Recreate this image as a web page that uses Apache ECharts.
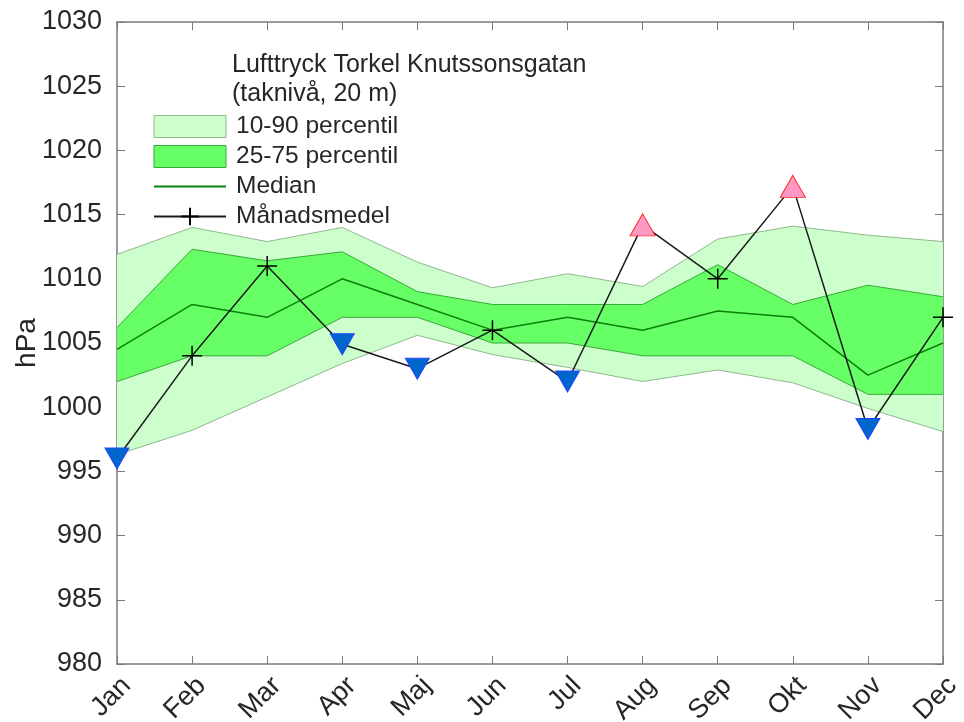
<!DOCTYPE html>
<html>
<head>
<meta charset="utf-8">
<script src="https://cdn.jsdelivr.net/npm/echarts@6/dist/echarts.min.js"></script>
<style>
  html, body { margin: 0; padding: 0; background: #fff; }
  #chart { width: 964px; height: 722px; }
</style>
</head>
<body>
<div id="chart"></div>
<script>
// ---- Data ----
const months = ['Jan', 'Feb', 'Mar', 'Apr', 'Maj', 'Jun', 'Jul', 'Aug', 'Sep', 'Okt', 'Nov', 'Dec']
const p10 = [996.3, 998.2, 1000.8, 1003.4, 1005.6, 1004.1, 1003.1, 1002.0, 1002.9, 1001.9, 999.9, 998.1]
const p25 = [1002.0, 1004.0, 1004.0, 1007.0, 1007.0, 1005.0, 1005.0, 1004.0, 1004.0, 1004.0, 1001.0, 1001.0]
const median = [1004.5, 1008.0, 1007.0, 1010.0, 1008.0, 1006.0, 1007.0, 1006.0, 1007.5, 1007.0, 1002.5, 1005.0]
const p75 = [1006.2, 1012.3, 1011.4, 1012.1, 1009.0, 1008.0, 1008.0, 1008.0, 1011.1, 1008.0, 1009.5, 1008.6]
const p90 = [1011.9, 1014.0, 1012.9, 1014.0, 1011.3, 1009.3, 1010.4, 1009.4, 1013.1, 1014.1, 1013.4, 1012.9]
const monthMean = [996.0, 1004.0, 1011.0, 1004.9, 1003.0, 1006.0, 1002.0, 1014.2, 1010.0, 1017.2, 998.3, 1007.0]

const FONT = 'Liberation Sans, Arial, Helvetica, sans-serif'
const TEXT_COLOR = '#262626'
const AXIS_COLOR = '#7a7a7a'
const OUTER_FILL = '#ccffcc'
const OUTER_EDGE = '#8fb88f'
const INNER_FILL = '#66ff66'
const INNER_EDGE = '#3aa83a'
const MEDIAN_COLOR = '#0a800a'
const PLUS = 'path://M0,10 L20,10 M10,0 L10,20'

// Monthly means outside the 25-75 band get triangles
function meanPoint(v, i) {
  if (v < p25[i]) {
    return {
      value: v,
      symbol: 'triangle',
      symbolRotate: 180,
      symbolSize: [24, 21],
      itemStyle: { color: '#0066cc', borderColor: '#2244ff', borderWidth: 1 },
    }
  }
  if (v > p75[i]) {
    return {
      value: v,
      symbol: 'triangle',
      symbolSize: [25, 22],
      itemStyle: { color: '#ff99c4', borderColor: '#ff2a2a', borderWidth: 1 },
    }
  }
  return v
}

const diff = (hi, lo) => hi.map((v, i) => +(v - lo[i]).toFixed(2))

const chart = echarts.init(document.getElementById('chart'), null, { renderer: 'canvas' })

chart.setOption({
  animation: false,
  backgroundColor: '#fff',
  textStyle: { fontFamily: FONT },
  title: {
    text: 'Lufttryck Torkel Knutssonsgatan\n(taknivå, 20 m)',
    left: 232,
    top: 51,
    padding: 0,
    textStyle: {
      fontFamily: FONT,
      fontSize: 25,
      fontWeight: 'normal',
      color: TEXT_COLOR,
      lineHeight: 29,
    },
  },
  legend: {
    orient: 'vertical',
    left: 153,
    top: 114,
    padding: 0,
    itemWidth: 72,
    itemHeight: 22,
    itemGap: 5,
    selectedMode: false,
    textStyle: { fontFamily: FONT, fontSize: 24.5, color: TEXT_COLOR, padding: [0, 0, 0, 5] },
    data: [
      { name: '10-90 percentil', icon: 'rect', itemStyle: { color: OUTER_FILL, borderColor: OUTER_EDGE, borderWidth: 1 } },
      { name: '25-75 percentil', icon: 'rect', itemStyle: { color: INNER_FILL, borderColor: INNER_EDGE, borderWidth: 1 } },
      { name: 'Median', itemStyle: { opacity: 0 } },
      { name: 'Månadsmedel' },
    ],
  },
  grid: { left: 117, right: 21, top: 22, bottom: 58, containLabel: false, outerBoundsMode: 'none' },
  xAxis: [
    {
      type: 'category',
      data: months,
      boundaryGap: false,
      axisLine: { lineStyle: { color: AXIS_COLOR, width: 1.5 } },
      axisTick: { inside: true, length: 8, lineStyle: { color: AXIS_COLOR } },
      axisLabel: {
        rotate: 45,
        fontSize: 27,
        color: TEXT_COLOR,
        margin: 8,
        align: 'right',
        verticalAlign: 'top',
        fontFamily: FONT,
      },
      splitLine: { show: false },
    },
    {
      type: 'category',
      data: months,
      position: 'top',
      boundaryGap: false,
      axisLine: { lineStyle: { color: AXIS_COLOR, width: 1.5 } },
      axisTick: { inside: true, length: 8, lineStyle: { color: AXIS_COLOR } },
      axisLabel: { show: false },
      splitLine: { show: false },
    },
  ],
  yAxis: [
    {
      type: 'value',
      min: 980,
      max: 1030,
      interval: 5,
      name: 'hPa',
      nameLocation: 'middle',
      nameGap: 76,
      nameMoveOverlap: false,
      nameTextStyle: { fontSize: 28, color: TEXT_COLOR, fontFamily: FONT },
      axisLine: { show: true, lineStyle: { color: AXIS_COLOR, width: 1.5 } },
      axisTick: { show: true, inside: true, length: 8, lineStyle: { color: AXIS_COLOR } },
      axisLabel: { fontSize: 27, color: TEXT_COLOR, margin: 15, fontFamily: FONT, formatter: (v) => String(v) },
      splitLine: { show: false },
    },
    {
      type: 'value',
      min: 980,
      max: 1030,
      interval: 5,
      position: 'right',
      axisLine: { show: true, lineStyle: { color: AXIS_COLOR, width: 1.5 } },
      axisTick: { show: true, inside: true, length: 8, lineStyle: { color: AXIS_COLOR } },
      axisLabel: { show: false },
      splitLine: { show: false },
    },
  ],
  series: [
    // 10-90 band: base + stacked width
    {
      name: 'p10',
      type: 'line',
      stack: 'outer',
      data: p10,
      symbol: 'none',
      lineStyle: { color: OUTER_EDGE, width: 1 },
      z: 1,
    },
    {
      name: '10-90 percentil',
      type: 'line',
      stack: 'outer',
      data: diff(p90, p10),
      symbol: 'none',
      lineStyle: { color: OUTER_EDGE, width: 1 },
      areaStyle: { color: OUTER_FILL, opacity: 1 },
      itemStyle: { color: OUTER_FILL },
      z: 1,
    },
    // 25-75 band
    {
      name: 'p25',
      type: 'line',
      stack: 'inner',
      data: p25,
      symbol: 'none',
      lineStyle: { color: INNER_EDGE, width: 1 },
      z: 2,
    },
    {
      name: '25-75 percentil',
      type: 'line',
      stack: 'inner',
      data: diff(p75, p25),
      symbol: 'none',
      lineStyle: { color: INNER_EDGE, width: 1 },
      areaStyle: { color: INNER_FILL, opacity: 1 },
      itemStyle: { color: INNER_FILL },
      z: 2,
    },
    {
      name: 'Median',
      type: 'line',
      data: median,
      symbol: 'none',
      lineStyle: { color: MEDIAN_COLOR, width: 1.5 },
      itemStyle: { color: MEDIAN_COLOR },
      z: 3,
    },
    {
      name: 'Månadsmedel',
      type: 'line',
      data: monthMean.map(meanPoint),
      symbol: PLUS,
      symbolSize: 20,
      showAllSymbol: true,
      lineStyle: { color: '#1a1a1a', width: 1.5 },
      itemStyle: { color: 'rgba(0,0,0,0)', borderColor: '#000', borderWidth: 1.5 },
      z: 4,
    },
  ],
})
</script>
</body>
</html>
